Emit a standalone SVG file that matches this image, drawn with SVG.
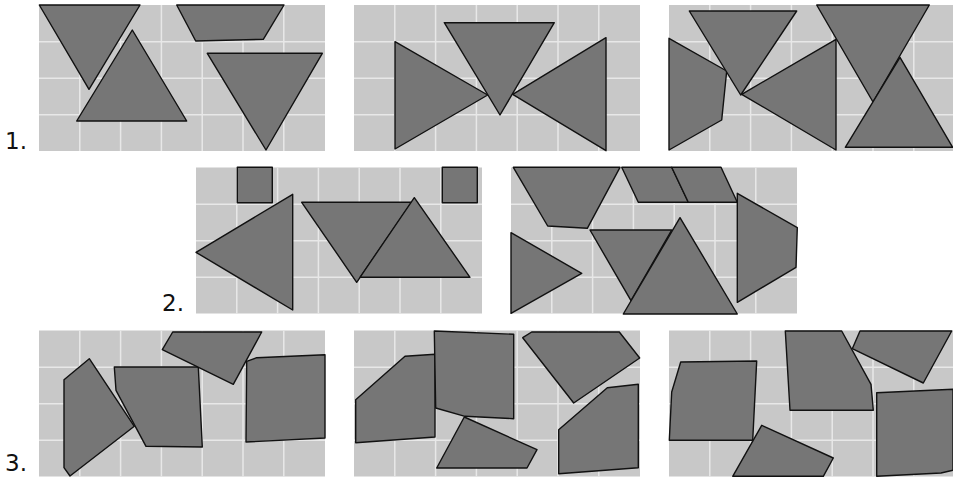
<svg xmlns="http://www.w3.org/2000/svg" xmlns:xlink="http://www.w3.org/1999/xlink" width="953" height="477" viewBox="0 0 953 477">
<style>
.bg{fill:#c8c8c8}
.gl{stroke:#e8e8e8;stroke-width:1.5;fill:none}
.s{fill:#767676;stroke:#111;stroke-width:1.4;stroke-linejoin:round}
.lbl{font-family:"DejaVu Sans",sans-serif;font-size:23px;fill:#111}
</style>
<defs>
<g id="panel">
<rect class="bg" x="0" y="0" width="286" height="146"/>
<path class="gl" d="M40.8 0V146M81.6 0V146M122.4 0V146M163.2 0V146M204 0V146M244.8 0V146M0 36.8H286M0 73.2H286M0 109.8H286"/>
</g>
</defs>
<g id="panels">
<use xlink:href="#panel" x="39" y="5"/>
<use xlink:href="#panel" x="354" y="5"/>
<use xlink:href="#panel" x="669" y="5"/>
<use xlink:href="#panel" x="196" y="167.5"/>
<use xlink:href="#panel" x="511" y="167.5"/>
<use xlink:href="#panel" x="39" y="330.5"/>
<use xlink:href="#panel" x="354" y="330.5"/>
<use xlink:href="#panel" x="669" y="330.5"/>
</g>
<g id="labels">
<text class="lbl" x="5" y="149">1.</text>
<text class="lbl" x="162" y="311">2.</text>
<text class="lbl" x="5" y="471">3.</text>
</g>
<g id="panelA">
<polygon class="s" points="39.3,5 140,5 89,89.3"/>
<polygon class="s" points="132.3,30 186.7,121 76.7,121"/>
<polygon class="s" points="176.7,5 284,5 263.3,39.3 195.7,41"/>
<polygon class="s" points="207.3,53.3 322.3,53.3 266,150"/>
</g>
<g id="panelB">
<polygon class="s" points="395,41.7 487.7,95 395,149"/>
<polygon class="s" points="606,37.7 606,150.7 512.7,94.3"/>
<polygon class="s" points="444.3,22.7 554.3,22.7 500,115"/>
</g>
<g id="panelC">
<polygon class="s" points="669,38.3 726.7,71 721.7,120 669,150"/>
<polygon class="s" points="836,39.3 836,150 741.7,94.3"/>
<polygon class="s" points="689.3,11 796.7,11 740.7,95"/>
<polygon class="s" points="816.7,5 929.3,5 873,102"/>
<polygon class="s" points="900,57.3 952.7,147.3 845.3,147.3"/>
</g>
<g id="panelD">
<polygon class="s" points="237.3,167.3 272.3,167.3 272.3,202.7 237.3,202.7"/>
<polygon class="s" points="442.3,167.3 477.3,167.3 477.3,202.7 442.3,202.7"/>
<polygon class="s" points="292.7,194.3 292.7,310 196,252.3"/>
<polygon class="s" points="301.7,202.3 411.7,202.3 356.7,282.3"/>
<polygon class="s" points="414.3,197.7 470,277.3 360,277.3"/>
</g>
<g id="panelE">
<polygon class="s" points="513.3,167.3 620,167.3 587.3,228.3 547.7,226"/>
<polygon class="s" points="621.7,167.3 671.7,167.3 688.3,202.3 638.3,202.3"/>
<polygon class="s" points="671.7,167.3 721,167.3 737.3,202.3 688.3,202.3"/>
<polygon class="s" points="511,232.7 581.7,273.3 511,313.3"/>
<polygon class="s" points="590,230 671.7,230 631,300.7"/>
<polygon class="s" points="680,217.7 737.3,314 623.3,314"/>
<polygon class="s" points="737.3,193.3 797.3,227.7 796,267.3 737.3,302.3"/>
</g>
<g id="panelF">
<polygon class="s" points="64,379.7 89.3,358.7 134.3,426.3 70,476 64,467.7"/>
<polygon class="s" points="114.3,367 198.3,367 202.3,447 146,446.3 116,390.3"/>
<polygon class="s" points="172.7,332 261.7,332 233.3,384.3 162.3,349.7"/>
<polygon class="s" points="246.7,361.3 256.7,357.7 325,354.7 325,438 246,442"/>
</g>
<g id="panelG">
<polygon class="s" points="355.7,399.7 405,356.3 435,354.3 435,437 355.7,442.7"/>
<polygon class="s" points="434.3,331 513.7,334.3 513.7,418.7 465,416.3 435.7,408"/>
<polygon class="s" points="464.3,417 537,449.7 527,468 436.7,468"/>
<polygon class="s" points="522.7,337.7 531.7,332 619.3,332 639.7,358 573.7,403"/>
<polygon class="s" points="558.7,429.7 607.3,387.7 638.3,384.3 638.3,467.7 558.7,473.7"/>
</g>
<g id="panelH">
<polygon class="s" points="680.7,362 756.7,361 752.7,440.3 669.3,440.3 671.7,392"/>
<polygon class="s" points="785.3,331 841.7,331 871,384.3 873.3,410.3 790,410.3"/>
<polygon class="s" points="852.3,348.7 860,331 951.7,331 923.3,383"/>
<polygon class="s" points="761.7,425.3 833.3,458 823.3,476.3 732.7,476.3"/>
<polygon class="s" points="876.7,392.7 953,389.3 953,470.3 941,473 876.7,476.3"/>
</g>
</svg>
